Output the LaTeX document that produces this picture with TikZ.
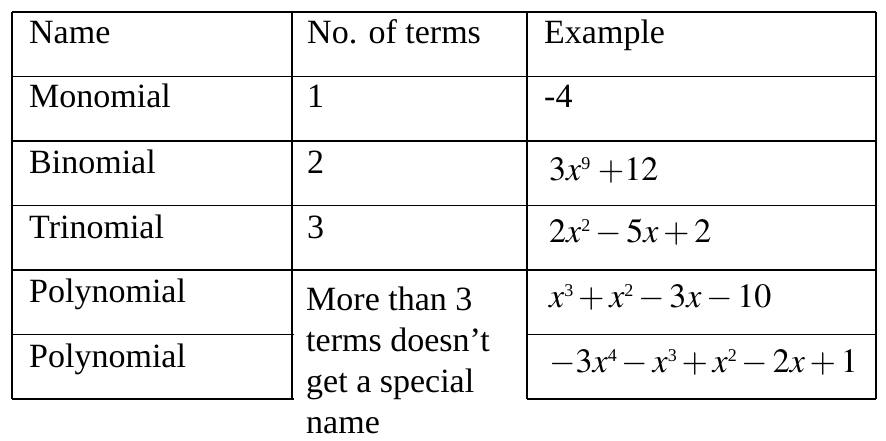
\documentclass[tikz,border=0pt]{standalone}
\usepackage{mathptmx}
\usepackage{fontspec}
\setmainfont{Liberation Serif}
\DeclareMathSizes{34}{34}{19}{15}
\newcommand\pw[1]{\mbox{\raisebox{11pt}{\fontsize{18}{18}\selectfont #1}}}
\begin{document}
\begin{tikzpicture}[x=1pt,y=-1pt,
  rule/.style={line width=1.8pt,black},
  txt/.style={anchor=base west,inner sep=0pt,font=\fontsize{34}{41}\selectfont}]
\useasboundingbox (0,0) rectangle (886,441);
% table rules
\draw[rule] (12,12) -- (876,12);
\foreach \y in {76.5,141,205.5,270} \draw[rule] (12,\y) -- (876,\y);
\draw[rule] (12,334.5) -- (294,334.5);
\draw[rule] (527,334.5) -- (876,334.5);
\draw[rule] (12,399) -- (294,399);
\draw[rule] (527,399) -- (876,399);
\foreach \x in {12,292,527,876} \draw[rule] (\x,12) -- (\x,399);
% column 1
\node[txt] (h1) at (29,44) {Name};
\node[txt] (n1) at (29,108) {Monomial};
\node[txt] (n2) at (29,173) {Binomial};
\node[txt] (n3) at (29,238) {Trinomial};
\node[txt] (n4) at (29,302) {Polynomial};
\node[txt] (n5) at (29,367) {Polynomial};
% column 2
\node[txt] (h2) at (307,44) {No. of terms};
\node[txt] (t1) at (307,108) {1};
\node[txt] (t2) at (307,173) {2};
\node[txt] (t3) at (307,238) {3};
\node[txt] (m1) at (306,310) {More than 3};
\node[txt] (m2) at (306,351) {terms doesn’t};
\node[txt] (m3) at (306,392) {get a special};
\node[txt] (m4) at (306,433) {name};
% column 3
\node[txt] (h3) at (544,44) {Example};
\node[txt] (e1) at (544,108) {-4};
\node[txt] (e2) at (549,180) {$3x\pw{9}\;{+}12$};
\node[txt] (e3) at (549,242) {$2x\pw{2}-5x+2$};
\node[txt] (e4) at (549,307) {$x\pw{3}+x\pw{2}-3x-10$};
\node[txt] (e5) at (549,372) {$-3x\pw{4}-x\pw{3}+x\pw{2}-2x+1$};
\end{tikzpicture}
\end{document}
